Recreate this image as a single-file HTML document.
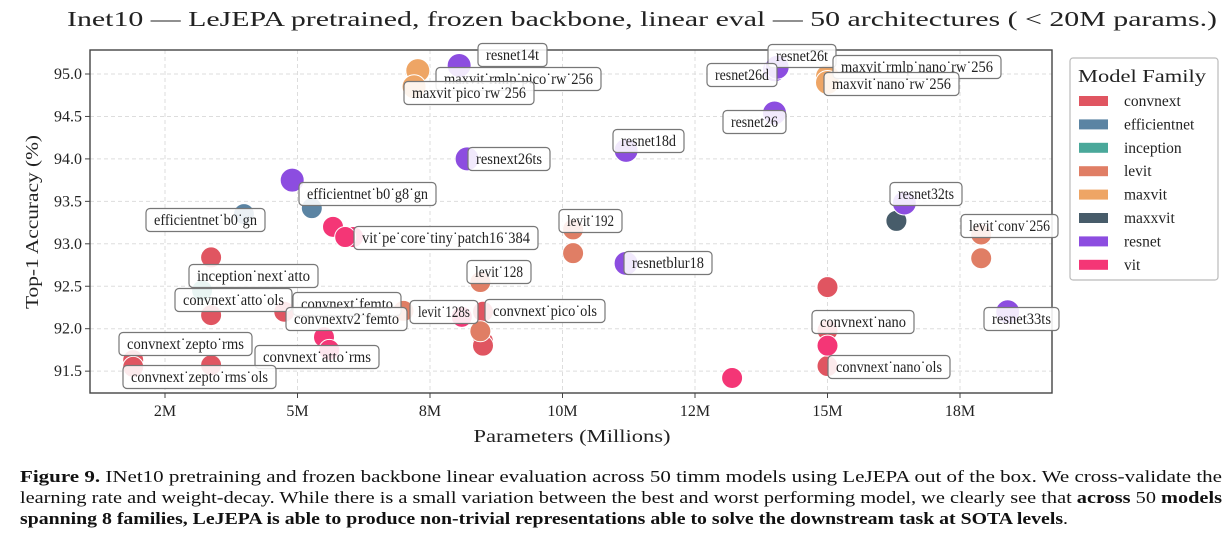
<!DOCTYPE html>
<html><head><meta charset="utf-8">
<style>
body{margin:0;background:#fff;width:1228px;height:540px;overflow:hidden;font-family:"Liberation Serif",serif;}
svg{position:absolute;left:0;top:0}
</style></head>
<body>
<svg id="chart" width="1228" height="540">
  <text x="67" y="26" font-size="21" fill="#222" textLength="1150" lengthAdjust="spacingAndGlyphs">Inet10 — LeJEPA pretrained, frozen backbone, linear eval — 50 architectures ( &lt; 20M params.)</text>
  <g id="grid"></g>
  <rect x="90" y="50" width="962" height="343" fill="none" stroke="#444" stroke-width="1.4"/>
  <g id="ticks"></g>
  <g id="points"></g>
  <g id="labels"></g>
  <text x="572" y="442" text-anchor="middle" font-size="18" fill="#222" textLength="197" lengthAdjust="spacingAndGlyphs">Parameters (Millions)</text>
  <text transform="translate(38,222) rotate(-90)" text-anchor="middle" font-size="18" fill="#222" textLength="174" lengthAdjust="spacingAndGlyphs">Top-1 Accuracy (%)</text>
  <g id="legend"></g>
  <g font-size="16.5" fill="#111">
    <text x="20" y="482" textLength="1202" lengthAdjust="spacingAndGlyphs"><tspan font-weight="bold">Figure 9.</tspan> INet10 pretraining and frozen backbone linear evaluation across 50 timm models using LeJEPA out of the box. We cross-validate the</text>
    <text x="20" y="503" textLength="1202" lengthAdjust="spacingAndGlyphs">learning rate and weight-decay. While there is a small variation between the best and worst performing model, we clearly see that <tspan font-weight="bold">across</tspan> 50 <tspan font-weight="bold">models</tspan></text>
    <text x="20" y="524" textLength="1048" lengthAdjust="spacingAndGlyphs"><tspan font-weight="bold">spanning 8 families, LeJEPA is able to produce non-trivial representations able to solve the downstream task at SOTA levels</tspan>.</text>
  </g>
</svg>
<script>
const families=["convnext","efficientnet","inception","levit","maxvit","maxxvit","resnet","vit"];
const colors=["#e05561","#5b84a3","#4aa89a","#e07e65","#eea565","#475c6a","#8c4de0","#f43676"];
const xTicks=[2.5,5,7.5,10,12.5,15,17.5];
const xTickLabels=["2M","5M","8M","10M","12M","15M","18M"];
const yTicks=[91.5,92.0,92.5,93.0,93.5,94.0,94.5,95.0];
const pointFamily=[0,0,0,0,0,0,0,0,0,0,0,0, 1,1, 2, 3,3,3,3,3,3,3, 4,4,4,4, 5, 6,6,6,6,6,6,6,6,6,6, 7,7,7,7,7,7,7,7];
const pointParams=[1.9,3.37,3.37,3.37,1.9,4.75,8.5,8.5,8.5,15,15,15, 3.99,5.27, 3.2, 8.45,7.0,10.2,10.2,8.45,17.9,17.9, 7.27,7.2,15,15, 16.3, 8.05,8.2,4.9,11.2,11.2,14.0,14.0,14.05,16.45,18.4, 5.67,6.05,5.9,5.5,8.1,13.2,15,5.6];
const pointAcc=[91.63,92.84,92.16,91.57,91.55,92.2,92.2,91.85,91.8,92.49,91.98,91.56, 93.35,93.42, 92.45, 92.55,92.21,93.17,92.89,91.97,93.11,92.83, 95.04,94.85,94.97,94.9, 93.27, 95.1,94.0,93.75,94.1,92.77,94.54,95.05,95.08,93.48,92.2, 93.2,93.08,93.08,91.9,92.14,91.42,91.8,91.75];
const labelTexts=["resnet14t","maxvit˙rmlp˙pico˙rw˙256","maxvit˙pico˙rw˙256","resnext26ts","efficientnet˙b0˙g8˙gn","efficientnet˙b0˙gn","vit˙pe˙core˙tiny˙patch16˙384","levit˙192","inception˙next˙atto","convnext˙atto˙ols","convnext˙femto","convnextv2˙femto","levit˙128s","levit˙128","convnext˙pico˙ols","convnext˙zepto˙rms","convnext˙atto˙rms","convnext˙zepto˙rms˙ols","resnet26t","resnet26d","maxvit˙rmlp˙nano˙rw˙256","maxvit˙nano˙rw˙256","resnet26","resnet18d","resnet32ts","levit˙conv˙256","resnetblur18","convnext˙nano","resnet33ts","convnext˙nano˙ols"];
const labelPos=[[478,55],[436,79],[404,93],[468,159],[299,194],[146,220],[354,238],[559,221],[189,276],[175,300],[293,304],[286,319],[410,312],[467,272],[485,311],[119,344],[255,357],[123,377],[768,56],[707,75],[833,67],[824,84],[723,122],[613,141],[890,194],[961,226],[624,263],[812,322],[984,319],[828,367]];
const labelW=[69,165,130,82,137,119,184,63,129,117,108,121,68,64,120,133,124,153,68,70,168,135,63,71,72,97,88,102,75,122];
const NS="http://www.w3.org/2000/svg";
const X=p=>165+(p-2.5)*53;
const Y=a=>74+(95-a)*84.9;
function mk(t,a,parent){const e=document.createElementNS(NS,t);for(const k in a)e.setAttribute(k,a[k]);parent.appendChild(e);return e;}
const grid=document.getElementById('grid'),ticks=document.getElementById('ticks');
xTicks.forEach((v,i)=>{
  const l=mk('line',{x1:X(v),x2:X(v),y1:50,y2:393,stroke:'#ddd','stroke-dasharray':'4,3'},grid);
  
  mk('line',{x1:X(v),x2:X(v),y1:393,y2:398,stroke:'#444'},ticks);
  const t=mk('text',{x:X(v),y:416,'text-anchor':'middle','font-size':16,fill:'#222'},ticks);
  t.textContent=xTickLabels[i];
  
});
yTicks.forEach(v=>{
  const l=mk('line',{x1:90,x2:1052,y1:Y(v),y2:Y(v),stroke:'#ddd','stroke-dasharray':'4,3'},grid);
  
  mk('line',{x1:85,x2:90,y1:Y(v),y2:Y(v),stroke:'#444'},ticks);
  const t=mk('text',{x:82,y:Y(v)+5,'text-anchor':'end','font-size':16,fill:'#222'},ticks);
  t.textContent=v.toFixed(1);
  
});
const pts=document.getElementById('points');
pointParams.forEach((p,i)=>{
  const f=pointFamily[i];
  const c=mk('circle',{cx:X(p),cy:Y(pointAcc[i]),r:f==4||f==6?12:10.5,fill:colors[f],stroke:'#fff','stroke-width':1},pts);
  
  
});
const lg=document.getElementById('labels');
labelTexts.forEach((s,i)=>{
  const g=mk('g',{},lg);
  
  
  mk('rect',{x:labelPos[i][0],y:labelPos[i][1]-11.5,width:labelW[i],height:23,rx:4,fill:'#fff','fill-opacity':0.88,stroke:'#777','stroke-width':1.2},g);
  const t=mk('text',{x:labelPos[i][0]+8,y:labelPos[i][1]+5,'font-size':15.5,fill:'#222',textLength:labelW[i]-16,lengthAdjust:'spacingAndGlyphs'},g);
  t.textContent=s;
});
const leg=document.getElementById('legend');
mk('rect',{x:1070,y:58,width:148,height:222,rx:3,fill:'#fff',stroke:'#bbb','stroke-width':1.2},leg);
const lt=mk('text',{x:1078,y:82,'font-size':18,fill:'#222',textLength:128,lengthAdjust:'spacingAndGlyphs'},leg);
lt.textContent='Model Family';
families.forEach((f,i)=>{
  const y=101+i*23.4;
  const r=mk('rect',{x:1079,y:y-5,width:29,height:10,fill:colors[i]},leg);
  
  const t=mk('text',{x:1124,y:y+5,'font-size':15.5,fill:'#222'},leg);
  t.textContent=f;
  
});
</script>
</body></html>
